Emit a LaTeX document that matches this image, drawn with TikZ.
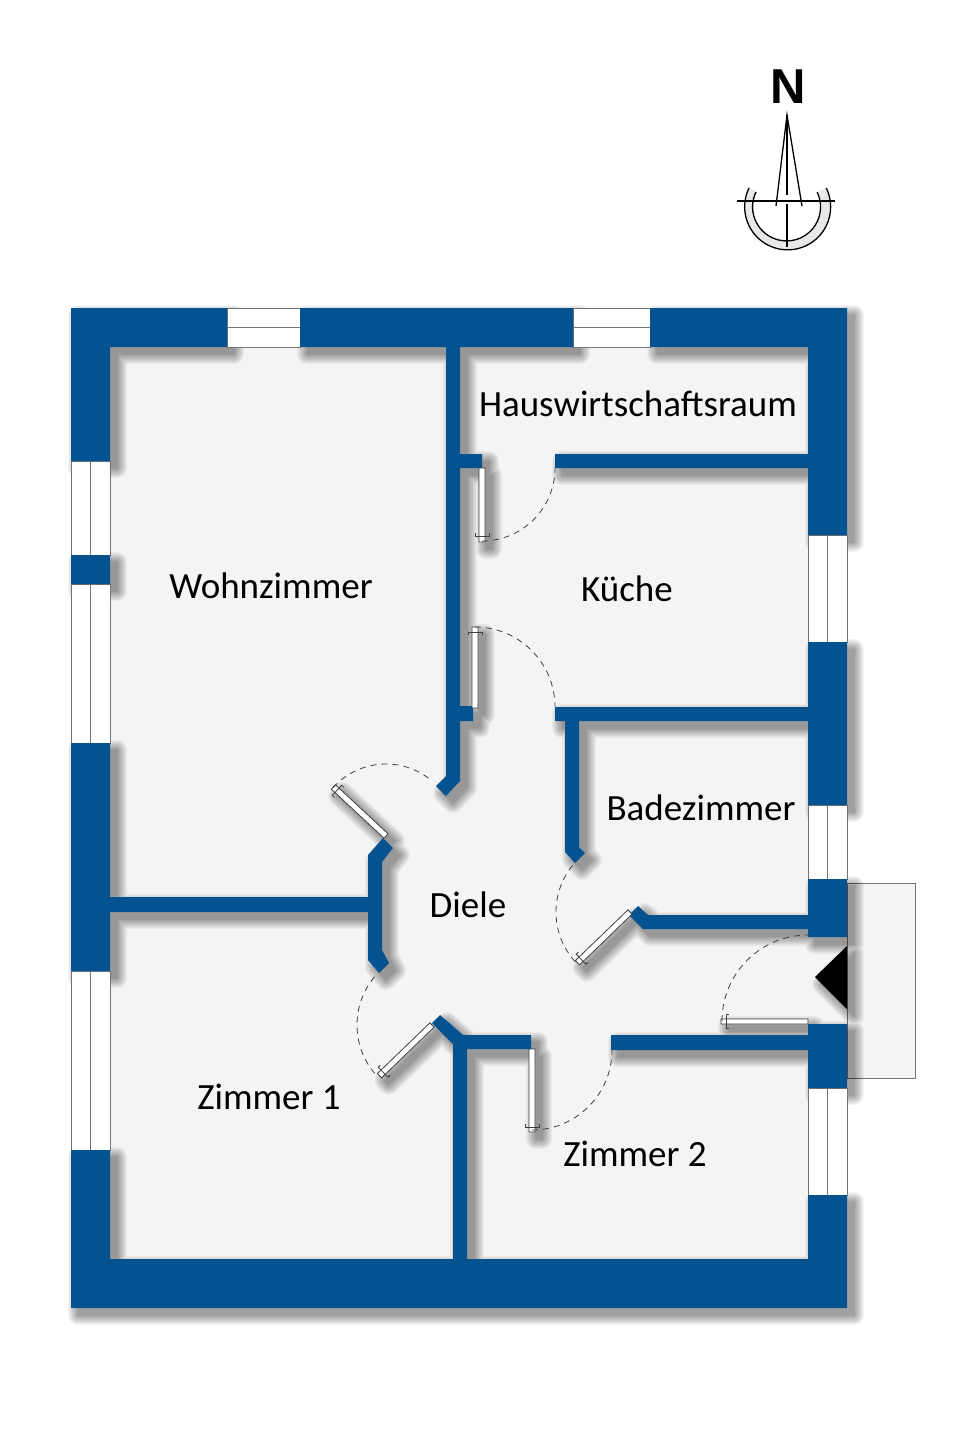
\documentclass[tikz,border=0pt]{standalone}
\usepackage{fontspec}
\setmainfont{Carlito}
\newfontfamily\northfont{Liberation Sans}
\usetikzlibrary{arrows.meta}

% all coordinates are pixels of the plan, y pointing down
\newcommand{\wallpath}{
  (71,308) rectangle (227,347) (300,308) rectangle (573,347) (650,308) rectangle (847,347)
  (71,347) rectangle (110,461) (71,555) rectangle (110,584) (71,743) rectangle (110,971) (71,1150) rectangle (110,1259)
  (71,1259) rectangle (847,1308)
  (808,347) rectangle (847,535) (808,642) rectangle (847,805) (808,879) rectangle (847,937) (808,1024) rectangle (847,1088) (808,1195) rectangle (847,1259)
  (446,347) -- (460,347) -- (460,454) -- (482,454) -- (482,468) -- (460,468) -- (460,706) -- (473,706) -- (473,721) -- (460,721) -- (460,781) -- (446,796) -- (436,786) -- (446,776) -- cycle
  (555,454) rectangle (808,468)
  (555,707) -- (808,707) -- (808,721) -- (579,721) -- (579,847) -- (585,853) -- (575,863) -- (565,852) -- (565,721) -- (555,721) -- cycle
  (808,915) -- (648,915) -- (638,906) -- (629,915) -- (643,929) -- (808,929) -- cycle
  (110,897) -- (368,897) -- (368,855) -- (383,838) -- (393,848) -- (382,862) -- (382,950) -- (389,963) -- (379,973) -- (368,960) -- (368,912) -- (110,912) -- cycle
  (467,1259) -- (453,1259) -- (453,1044) -- (432,1023) -- (440,1015) -- (463,1035) -- (531,1035) -- (531,1049) -- (467,1049) -- cycle
  (611,1035) rectangle (808,1050)
}
\newcommand{\leafpath}{
  (479,468) rectangle (485,542)
  (472,627) rectangle (478,708)
  (386,836) -- ++(133:3) -- ++(223:72) -- ++(313:6) -- ++(43:72) -- cycle
  (630,912) -- ++(46:3) -- ++(136:73) -- ++(226:6) -- ++(316:73) -- cycle
  (432,1025) -- ++(46:3) -- ++(136:73) -- ++(226:6) -- ++(316:73) -- cycle
  (529,1049) rectangle (535,1132)
  (721,1019) rectangle (808,1024)
}
% centre x, centre y, radius, start angle, end angle
\newcommand{\swing}[5]{\draw[swingline] (#1,#2) ++(#4:#3) arc (#4:#5:#3);}
% hinge x, hinge y, leaf length, angle
\newcommand{\leafmark}[4]{
  \draw[leafline,shift={(#1,#2)},rotate=#4] (#3-8,-7) -- (#3-5,-7) -- (#3-5,7) -- (#3-8,7);
}

\begin{document}
\begin{tikzpicture}[x=1pt,y=1pt,yscale=-1,line join=miter]

\tikzset{wallarea/.style={fill=wallblue},
  leafbox/.style={fill=white,draw=black!75,line width=0.8pt},
  leafline/.style={draw=black!75,line width=0.8pt},
  swingline/.style={draw=black!75,line width=0.8pt,dash pattern=on 6pt off 5pt},
  windowbox/.style={fill=white,draw=black!55,line width=1pt},
  roomlabel/.style={font=\fontsize{37}{42}\selectfont,text=black},
  softshadow/.style={fill=black,draw=black,line join=round},
  northline/.style={line width=1.3pt}}
\definecolor{wallblue}{HTML}{04528F}
\definecolor{floorgray}{HTML}{F4F4F4}

\useasboundingbox (0,0) rectangle (978,1440);
\fill[white] (0,0) rectangle (978,1440);

% --- Floor and porch ---
\fill[floorgray] (110,347) rectangle (808,1259);
\fill[floorgray] (808,937) rectangle (847,1024);
\draw[fill=floorgray,draw=black!55,line width=0.8pt] (847,883) rectangle (915,1078);

% --- Shadows ---
\foreach \spread in {0,2,...,20}{
  \begin{scope}[transparency group,opacity=0.04,shift={(7,7)}]
    \path[softshadow,line width=\spread pt] \wallpath;
    \path[softshadow,line width=\spread pt] \leafpath;
    \path[softshadow,line width=\spread pt] (847,946) -- (815,977) -- (847,1009) -- cycle;
  \end{scope}
}

% --- Windows ---
\draw[windowbox] (227,308) rectangle (300,347) (227,327) -- (300,327);
\draw[windowbox] (573,308) rectangle (650,347) (573,327) -- (650,327);
\draw[windowbox] (71,461) rectangle (110,555) (90,461) -- (90,555);
\draw[windowbox] (71,584) rectangle (110,743) (90,584) -- (90,743);
\draw[windowbox] (71,971) rectangle (110,1150) (90,971) -- (90,1150);
\draw[windowbox] (808,535) rectangle (847,642) (827,535) -- (827,642);
\draw[windowbox] (808,805) rectangle (847,879) (827,805) -- (827,879);
\draw[windowbox] (808,1088) rectangle (847,1195) (827,1088) -- (827,1195);

% --- Walls ---
\fill[wallarea] \wallpath;

% --- Doors ---
\path[leafbox] \leafpath;
\swing{482}{468}{73}{90}{0}
\swing{475}{707}{80}{-90}{0}
\swing{386}{835}{71}{222}{309}
\swing{630}{912}{74}{219}{136}
\swing{432}{1025}{75}{220}{136}
\swing{532}{1050}{80}{90}{0}
\swing{808}{1021}{86}{180}{270}
\leafmark{482}{468}{73}{90}
\leafmark{475}{708}{81}{-90}
\leafmark{386}{836}{72}{223}
\leafmark{630}{912}{73}{136}
\leafmark{432}{1025}{73}{136}
\leafmark{532}{1049}{83}{90}
\leafmark{808}{1021}{87}{180}

% Entrance
\fill[black] (847,946) -- (815,977) -- (847,1009) -- cycle;

% --- Room names ---
\node[roomlabel] (wohnzimmer) at (271,586) {Wohnzimmer};
\node[roomlabel] (hauswirtschaft) at (638,404) {Hauswirtschaftsraum};
\node[roomlabel] (kueche) at (627,589) {Küche};
\node[roomlabel] (badezimmer) at (701,808) {Badezimmer};
\node[roomlabel] (diele) at (468,905) {Diele};
\node[roomlabel] (zimmereins) at (269,1097) {Zimmer 1};
\node[roomlabel] (zimmerzwei) at (635,1154) {Zimmer 2};

% --- North arrow ---
\fill[black!9] (749,188) arc (206:-26:43) -- (818,192) arc (-26:206:34) -- cycle;
\draw[northline] (749,188) arc (206:-26:43);
\draw[northline] (756,192) arc (206:-26:34);
\draw[northline] (737,201) -- (835,201);
\draw[northline] (776,206) -- (787,115) -- (802,206);
\draw[northline] (787,115) -- (787,195) (787,204) -- (787,247);
\node[font=\fontsize{49}{50}\selectfont\northfont\bfseries,inner sep=0pt] (north) at (788,87) {N};
\end{tikzpicture}
\end{document}
